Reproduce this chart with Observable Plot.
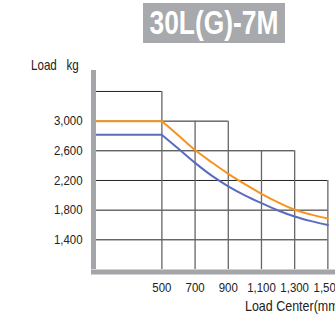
<!DOCTYPE html>
<html>
<head>
<meta charset="utf-8">
<script src="https://cdn.jsdelivr.net/npm/d3@7"></script>
<script src="https://cdn.jsdelivr.net/npm/@observablehq/plot@0.6"></script>
<style>
  body { margin: 0; background: white; }
  #wrap { position: relative; width: 335px; height: 318px; overflow: hidden; background: white;
          font-family: "Liberation Sans", Arial, sans-serif; }
  #wrap svg { position: absolute; left: 0; top: 0; }
  .title { position: absolute; left: 143px; top: 3px; width: 142px; height: 40px; background: #a7a9ac; }
  .title span { position: absolute; left: 50%; top: 0; color: white; font-weight: bold; font-size: 33px;
                line-height: 40px; white-space: pre; transform: translateX(-50%) scaleX(0.8); }
  .ylab { position: absolute; left: 31px; top: 58px; font-size: 14.5px; line-height: 1; color: #222; white-space: pre;
          transform: scaleX(0.8); transform-origin: left center; }
  .xlab { position: absolute; left: 245px; top: 299px; font-size: 14.5px; line-height: 1; color: #222; white-space: pre;
          transform: scaleX(0.86); transform-origin: left center; }
</style>
</head>
<body>
<div id="wrap">
  <div class="title"><span>30L(G)-7M</span></div>
  <div class="ylab">Load   kg</div>
  <div class="xlab">Load Center(mm)</div>
</div>
<script>
const loadCenter = [100, 500, 600, 700, 800, 900, 1000, 1100, 1200, 1300, 1400, 1500];
const orangeLoad = [3000, 3000, 2805, 2610, 2445, 2290, 2150, 2021, 1905, 1806, 1740, 1688];
const blueLoad   = [2815, 2815, 2627, 2437, 2265, 2122, 2000, 1894, 1796, 1715, 1652, 1600];
const xTicks = [500, 700, 900, 1100, 1300, 1500];
const yTicks = [3000, 2600, 2200, 1800, 1400];
const gridRowY   = [3400, 3000, 2600, 2200, 1800, 1400];
const gridRowEnd = [500, 900, 1300, 1500, 1500, 1500];
const gridColX   = [500, 700, 900, 1100, 1300, 1500];
const gridColTop = [3400, 3000, 3000, 2600, 2600, 2200];
const xMin = 100, xMax = 1546, yMin = 1000, yMax = 3750;

const orange = loadCenter.map((x, i) => ({x, y: orangeLoad[i]}));
const blue = loadCenter.map((x, i) => ({x, y: blueLoad[i]}));
const rows = gridRowY.map((y, i) => ({y, x2: gridRowEnd[i]}));
const cols = gridColX.map((x, i) => ({x, y2: gridColTop[i]}));

const plot = Plot.plot({
  width: 335, height: 318,
  marginLeft: 95, marginRight: 0, marginTop: 65, marginBottom: 49,
  style: {fontFamily: '"Liberation Sans", Arial, sans-serif', fontSize: "13px", color: "#222", background: "transparent"},
  x: {domain: [xMin, xMax], ticks: xTicks, tickFormat: d3.format(","), tickSize: 0, tickPadding: 13, label: null},
  y: {domain: [yMin, yMax], ticks: yTicks, tickFormat: d3.format(","), tickSize: 0, tickPadding: 13, label: null},
  marks: [
    Plot.ruleY(rows, {y: "y", x1: xMin, x2: "x2", stroke: "#222", strokeWidth: 1}),
    Plot.ruleX(cols, {x: "x", y1: yMin, y2: "y2", stroke: "#666", strokeWidth: 1.3}),
    Plot.line(orange.slice(0, 2), {x: "x", y: "y", stroke: "#f7931e", strokeWidth: 2}),
    Plot.line(orange.slice(1), {x: "x", y: "y", stroke: "#f7931e", strokeWidth: 2, curve: "monotone-x"}),
    Plot.line(blue.slice(0, 2), {x: "x", y: "y", stroke: "#5c6bc0", strokeWidth: 2}),
    Plot.line(blue.slice(1), {x: "x", y: "y", stroke: "#5c6bc0", strokeWidth: 2, curve: "monotone-x"}),
    Plot.ruleX([xMin], {y1: yMin, y2: yMax, stroke: "#a3a5a8", strokeWidth: 5, dx: -2, insetBottom: -5}),
    Plot.ruleY([yMin], {stroke: "#a3a5a8", strokeWidth: 5, dy: 2.5, insetLeft: -4})
  ]
});
// condense tick label glyphs horizontally around their anchor
d3.select(plot).selectAll("text").each(function () {
  const t = this.getAttribute("transform") || "";
  this.setAttribute("transform", t + " scale(0.88,1)");
});
document.getElementById("wrap").prepend(plot);
</script>
</body>
</html>
